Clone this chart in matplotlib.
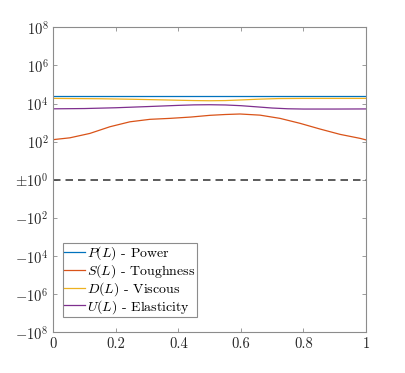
import numpy as np
import matplotlib
matplotlib.use("Agg")
import matplotlib.pyplot as plt

# === DATA ===
x_p = [0.0, 1.0]
power = [24700, 24700]

x_s = [0.0, 0.053, 0.117, 0.181, 0.245, 0.309, 0.373, 0.44, 0.501, 0.55, 0.597,
       0.661, 0.725, 0.789, 0.853, 0.917, 0.981, 1.0]
toughness = [127, 158, 269, 603, 1096, 1479, 1660, 1950, 2399, 2650, 2818,
             2455, 1660, 912, 457, 240, 148, 123]

x_d = [0.0, 0.15, 0.25, 0.35, 0.45, 0.5, 0.55, 0.6, 0.66, 0.72, 0.8, 1.0]
viscous = [18600, 17800, 16800, 15500, 14300, 14000, 14300, 15400, 17000, 18200, 18600, 18600]

x_u = [0.0, 0.1, 0.2, 0.3, 0.4, 0.45, 0.5, 0.55, 0.6, 0.65, 0.7, 0.75, 0.8, 0.9, 1.0]
elasticity = [5270, 5450, 6000, 6900, 8000, 8500, 8650, 8400, 7700, 6700, 5800, 5300, 5130, 5130, 5200]

labels = [r"$P(L)$ - Power", r"$S(L)$ - Toughness", r"$D(L)$ - Viscous", r"$U(L)$ - Elasticity"]
colors = ["#0072BD", "#D95319", "#EDB120", "#7E2F8E"]

y_ticks = [-1e8, -1e6, -1e4, -1e2, 1, 1e2, 1e4, 1e6, 1e8]
y_ticklabels = [r"$-10^{8}$", r"$-10^{6}$", r"$-10^{4}$", r"$-10^{2}$", r"$\pm10^{0}$",
                r"$10^{2}$", r"$10^{4}$", r"$10^{6}$", r"$10^{8}$"]
x_ticks = [0, 0.2, 0.4, 0.6, 0.8, 1]
x_ticklabels = ["0", "0.2", "0.4", "0.6", "0.8", "1"]

plt.rcParams["font.family"] = "cmr10"
plt.rcParams["mathtext.fontset"] = "cm"
plt.rcParams["axes.unicode_minus"] = False


def fwd(v):
    v = np.asarray(v, dtype=float)
    return np.sign(v) * np.log10(np.maximum(np.abs(v), 1.0))


def inv(t):
    t = np.asarray(t, dtype=float)
    return np.sign(t) * 10 ** np.abs(t)


fig = plt.figure(figsize=(4.05, 3.73), dpi=100)
ax = fig.add_axes([0.1316, 0.110, 0.7721, 0.8166])
ax.set_yscale("function", functions=(fwd, inv))

ax.plot(x_p, power, color=colors[0], lw=0.9, label=labels[0])
ax.plot(x_s, toughness, color=colors[1], lw=0.9, label=labels[1])
ax.plot(x_d, viscous, color=colors[2], lw=0.9, label=labels[2])
ax.plot(x_u, elasticity, color=colors[3], lw=0.9, label=labels[3])
ax.axhline(1, color="#404040", lw=1.2, ls=(0, (4.5, 3)))

ax.set_xlim(0, 1)
ax.set_ylim(-1e8, 1e8)
ax.set_yticks(y_ticks, y_ticklabels)
ax.set_xticks(x_ticks, x_ticklabels)
ax.yaxis.set_minor_locator(matplotlib.ticker.NullLocator())

for s in ax.spines.values():
    s.set_color("#8c8c8c")
    s.set_linewidth(0.8)
ax.tick_params(direction="in", top=True, right=True, length=3, width=0.6,
               color="#8c8c8c", labelcolor="#262626", labelsize=10.5)

leg = ax.legend(loc="lower left", bbox_to_anchor=(0.032, 0.05), borderaxespad=0,
                fancybox=False, edgecolor="#8c8c8c", framealpha=1, fontsize=10.0,
                borderpad=0.08, handlelength=1.5, handletextpad=0.15, labelspacing=0.0)
leg.get_frame().set_linewidth(0.8)

fig.savefig("out.png", dpi=100)
